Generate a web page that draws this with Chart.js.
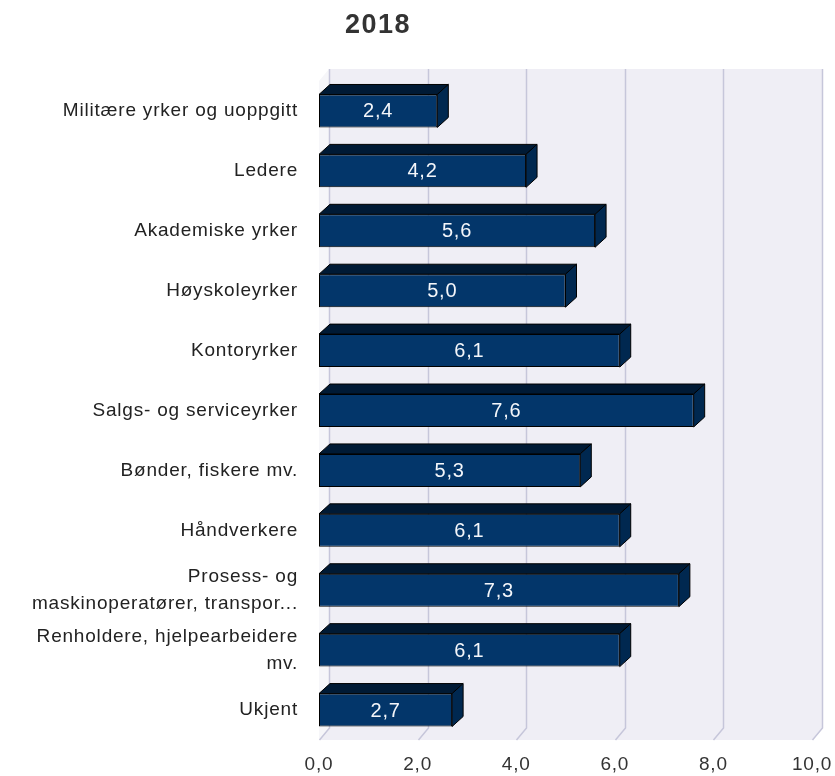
<!DOCTYPE html>
<html>
<head>
<meta charset="utf-8">
<script src="https://cdn.jsdelivr.net/npm/chart.js@4.4.1/dist/chart.umd.min.js"></script>
<style>
  html, body { margin: 0; padding: 0; background: #fff; }
  #wrap { position: relative; width: 835px; height: 776px; }
</style>
</head>
<body>
<div id="wrap"><canvas id="chart"></canvas></div>
<script>
var chartTitle = '2018';
var categories = [
    'Militære yrker og uoppgitt',
    'Ledere',
    'Akademiske yrker',
    'Høyskoleyrker',
    'Kontoryrker',
    'Salgs- og serviceyrker',
    'Bønder, fiskere mv.',
    'Håndverkere',
    ['Prosess- og', 'maskinoperatører, transpor...'],
    ['Renholdere, hjelpearbeidere', 'mv.'],
    'Ukjent'
];
var values = [2.4, 4.2, 5.6, 5.0, 6.1, 7.6, 5.3, 6.1, 7.3, 6.1, 2.7];
var xTickLabels = ['0,0', '2,0', '4,0', '6,0', '8,0', '10,0'];

(function () {
    var FONT = '"Liberation Sans", Arial, sans-serif';
    var WALL_DX = 10, WALL_DY = 12;
    var BAR_DX = 11, BAR_DY = 10;

    function fmt(v) {
        return v.toFixed(1).replace('.', ',');
    }

    // vegger, gulv og rutenett i "3D"
    var wallPlugin = {
        id: 'wall3d',
        beforeDraw: function (chart) {
            chart.ctx.letterSpacing = '0.8px';
        },
        beforeDatasetsDraw: function (chart) {
            var ctx = chart.ctx, a = chart.chartArea, xs = chart.scales.x;
            ctx.save();
            // venstre vegg
            ctx.fillStyle = '#f6f6f9';
            ctx.beginPath();
            ctx.moveTo(a.left, a.top);
            ctx.lineTo(a.left + WALL_DX, a.top - WALL_DY);
            ctx.lineTo(a.left + WALL_DX, a.bottom - WALL_DY);
            ctx.lineTo(a.left, a.bottom);
            ctx.closePath();
            ctx.fill();
            // gulv
            ctx.fillStyle = '#efeef5';
            ctx.beginPath();
            ctx.moveTo(a.left, a.bottom);
            ctx.lineTo(a.right, a.bottom);
            ctx.lineTo(a.right + WALL_DX, a.bottom - WALL_DY);
            ctx.lineTo(a.left + WALL_DX, a.bottom - WALL_DY);
            ctx.closePath();
            ctx.fill();
            // bakvegg
            ctx.fillRect(a.left + WALL_DX, a.top - WALL_DY, a.right - a.left, a.bottom - a.top);
            // rutenett
            ctx.strokeStyle = '#c6c6da';
            ctx.lineWidth = 1.5;
            xs.ticks.forEach(function (t) {
                var px = Math.round(xs.getPixelForValue(t.value)) + 0.5;
                ctx.beginPath();
                ctx.moveTo(px + WALL_DX, a.top - WALL_DY);
                ctx.lineTo(px + WALL_DX, a.bottom - WALL_DY);
                ctx.lineTo(px, a.bottom);
                ctx.stroke();
            });
            ctx.restore();
        },
        afterDatasetsDraw: function (chart) {
            var ctx = chart.ctx;
            var meta = chart.getDatasetMeta(0);
            ctx.save();
            ctx.lineWidth = 1;
            ctx.strokeStyle = '#000';
            ctx.lineJoin = 'round';
            meta.data.forEach(function (bar, i) {
                var p = bar.getProps(['x', 'y', 'base', 'height'], true);
                var top = p.y - p.height / 2, bottom = p.y + p.height / 2;
                // topp
                ctx.fillStyle = '#001a35';
                ctx.beginPath();
                ctx.moveTo(p.base, top);
                ctx.lineTo(p.base + BAR_DX, top - BAR_DY);
                ctx.lineTo(p.x + BAR_DX, top - BAR_DY);
                ctx.lineTo(p.x, top);
                ctx.closePath();
                ctx.fill();
                ctx.stroke();
                // side
                ctx.fillStyle = '#002850';
                ctx.beginPath();
                ctx.moveTo(p.x, top);
                ctx.lineTo(p.x + BAR_DX, top - BAR_DY);
                ctx.lineTo(p.x + BAR_DX, bottom - BAR_DY);
                ctx.lineTo(p.x, bottom);
                ctx.closePath();
                ctx.fill();
                ctx.stroke();
                // verdi
                ctx.fillStyle = '#f4f6fa';
                ctx.font = '20px ' + FONT;
                ctx.letterSpacing = '0.8px';
                ctx.textAlign = 'center';
                ctx.textBaseline = 'middle';
                ctx.fillText(fmt(values[i]), (p.base + p.x) / 2, p.y + 1);
            });
            ctx.restore();
        },
        afterDraw: function (chart) {
            var ctx = chart.ctx;
            ctx.save();
            ctx.fillStyle = '#333333';
            ctx.font = 'bold 27px ' + FONT;
            ctx.letterSpacing = '1.5px';
            ctx.textAlign = 'center';
            ctx.textBaseline = 'middle';
            ctx.fillText(chartTitle, 378, 26);
            ctx.restore();
        }
    };

    new Chart(document.getElementById('chart').getContext('2d'), {
        type: 'bar',
        data: {
            labels: categories,
            datasets: [{
                data: values,
                backgroundColor: '#03366a',
                borderColor: '#000000',
                borderWidth: 1,
                borderSkipped: false,
                categoryPercentage: 1,
                barPercentage: 0.55
            }]
        },
        options: {
            indexAxis: 'y',
            responsive: true,
            maintainAspectRatio: false,
            animation: false,
            layout: { padding: { top: 81, right: 23, bottom: 0, left: 0 } },
            plugins: {
                legend: { display: false },
                tooltip: { enabled: false },
                title: { display: false }
            },
            scales: {
                x: {
                    min: 0,
                    max: 10,
                    grid: { display: false, drawTicks: false },
                    border: { display: false },
                    ticks: {
                        stepSize: 2,
                        padding: 13,
                        color: '#333333',
                        font: { size: 19, family: FONT },
                        callback: function (v, i) { return xTickLabels[i]; }
                    },
                    afterFit: function (s) {
                        s.height = 36;
                        s.paddingLeft = 0;
                        s.paddingRight = 0;
                    }
                },
                y: {
                    grid: { display: false, drawTicks: false },
                    border: { display: false },
                    ticks: {
                        padding: 21,
                        color: '#222222',
                        font: { size: 19, family: FONT, lineHeight: 1.45 }
                    },
                    afterFit: function (s) {
                        s.width = 319;
                        s.paddingTop = 0;
                        s.paddingBottom = 0;
                    }
                }
            }
        },
        plugins: [wallPlugin]
    });
})();
</script>
</body>
</html>
